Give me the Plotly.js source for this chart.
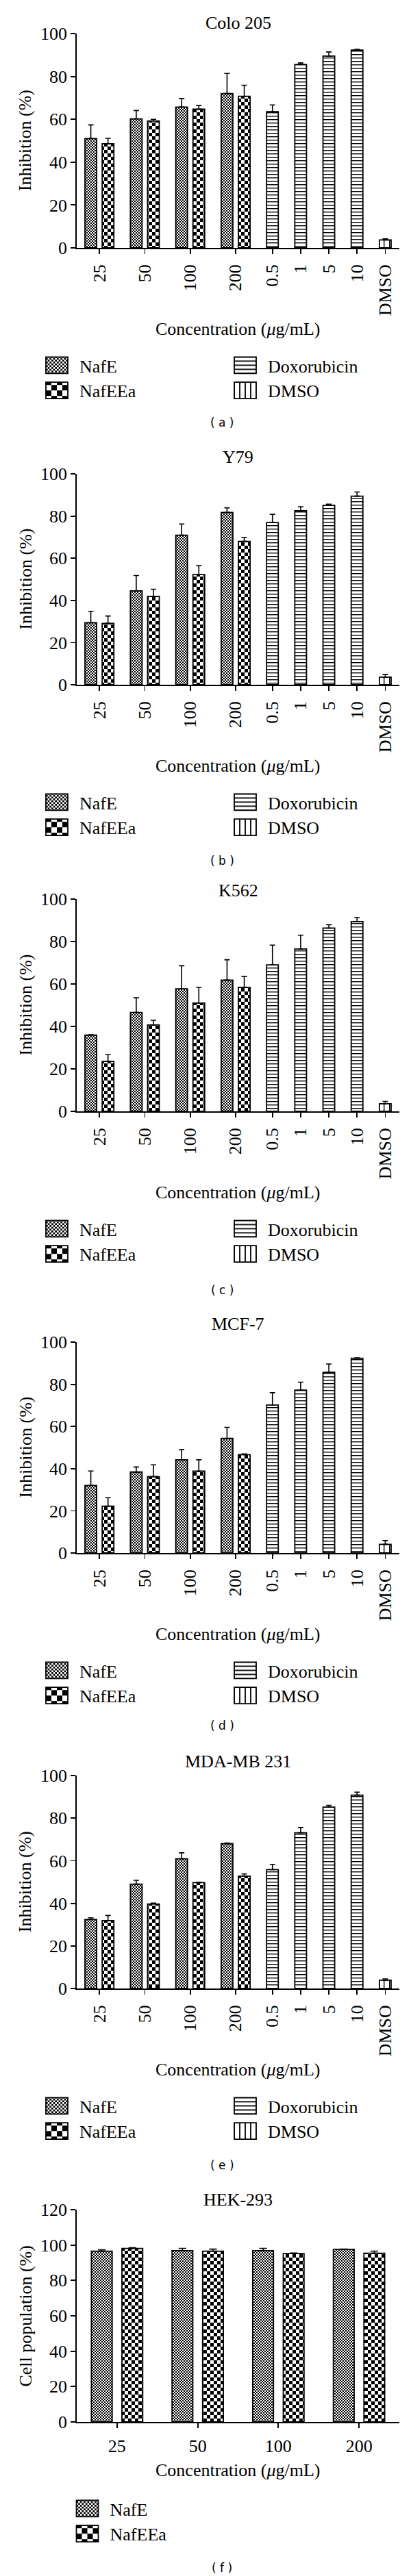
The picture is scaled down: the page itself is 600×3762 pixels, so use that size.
<!DOCTYPE html>
<html>
<head>
<meta charset="utf-8">
<script src="https://cdn.plot.ly/plotly-3.0.1.min.js"></script>
<style>
  html, body { margin: 0; padding: 0; background: #fff; }
  body { width: 600px; height: 3762px; position: relative; overflow: hidden; }
  .panel { position: absolute; left: 0; width: 600px; }
</style>
</head>
<body>
<svg width="0" height="0" style="position:absolute">
  <defs>
    <pattern id="patNafE" patternUnits="userSpaceOnUse" width="4" height="4">
      <rect width="4" height="4" fill="#fff"/>
      <rect x="0" y="0" width="2" height="2" fill="#000"/>
      <rect x="2" y="2" width="2" height="2" fill="#000"/>
    </pattern>
    <pattern id="patNafEEa" patternUnits="userSpaceOnUse" width="10" height="10">
      <rect width="10" height="10" fill="#fff"/>
      <rect x="0" y="0" width="5" height="5" fill="#000"/>
      <rect x="5" y="5" width="5" height="5" fill="#000"/>
    </pattern>
    <pattern id="patDoxo" patternUnits="userSpaceOnUse" width="6" height="5">
      <rect width="6" height="5" fill="#fff"/>
      <rect x="0" y="0" width="6" height="1.4" fill="#000"/>
    </pattern>
    <pattern id="patDMSO" patternUnits="userSpaceOnUse" width="8" height="6">
      <rect width="8" height="6" fill="#fff"/>
      <rect x="0" y="0" width="1.4" height="6" fill="#000"/>
    </pattern>
    <pattern id="legNafE" patternUnits="userSpaceOnUse" width="5.333" height="5.333">
      <rect width="5.333" height="5.333" fill="#fff"/>
      <rect x="0" y="0" width="2.667" height="2.667" fill="#000"/>
      <rect x="2.667" y="2.667" width="2.667" height="2.667" fill="#000"/>
    </pattern>
    <pattern id="legNafEEa" patternUnits="userSpaceOnUse" width="16" height="16">
      <rect width="16" height="16" fill="#fff"/>
      <rect x="0" y="0" width="8" height="8" fill="#000"/>
      <rect x="8" y="8" width="8" height="8" fill="#000"/>
    </pattern>
    <pattern id="legDoxo" patternUnits="userSpaceOnUse" width="8" height="6">
      <rect width="8" height="6" fill="#fff"/>
      <rect x="0" y="-0.9" width="8" height="1.8" fill="#000"/>
      <rect x="0" y="5.1" width="8" height="1.8" fill="#000"/>
    </pattern>
    <pattern id="legDMSO" patternUnits="userSpaceOnUse" width="8" height="6">
      <rect width="8" height="6" fill="#fff"/>
      <rect x="-0.9" y="0" width="1.8" height="6" fill="#000"/>
      <rect x="7.1" y="0" width="1.8" height="6" fill="#000"/>
    </pattern>
  </defs>
</svg>
<div id="pa" class="panel"></div>
<div id="pb" class="panel"></div>
<div id="pc" class="panel"></div>
<div id="pd" class="panel"></div>
<div id="pe" class="panel"></div>
<div id="pf" class="panel"></div>
<script>
// ---------------- DATA ----------------
const extractConc = ['25', '50', '100', '200'];
const doxoConc = ['0.5', '1', '5', '10'];
const dmsoLabel = ['DMSO'];
const seriesNames = ['NafE', 'NafEEa', 'Doxorubicin', 'DMSO'];

// Colo 205
const colo_NafE = [51.0, 60.2, 65.7, 72.0];
const colo_NafE_sd = [6.4, 3.9, 4.0, 9.4];
const colo_NafEEa = [48.6, 59.2, 64.7, 70.7];
const colo_NafEEa_sd = [2.5, 0.8, 1.7, 5.2];
const colo_Doxo = [63.5, 85.6, 89.5, 92.3];
const colo_Doxo_sd = [3.2, 0.7, 1.9, 0.3];
const colo_DMSO = [3.7];
const colo_DMSO_sd = [0.5];

// Y79
const y79_NafE = [29.4, 44.5, 70.9, 81.7];
const y79_NafE_sd = [5.4, 7.3, 5.3, 2.2];
const y79_NafEEa = [29.1, 41.9, 52.2, 68.0];
const y79_NafEEa_sd = [3.5, 3.4, 4.3, 1.9];
const y79_Doxo = [76.9, 82.5, 85.1, 89.4];
const y79_Doxo_sd = [3.9, 1.9, 0.5, 2.0];
const y79_DMSO = [3.6];
const y79_DMSO_sd = [1.3];

// K562
const k562_NafE = [35.9, 46.6, 57.7, 61.8];
const k562_NafE_sd = [0.2, 6.9, 10.9, 9.6];
const k562_NafEEa = [23.5, 40.7, 51.0, 58.4];
const k562_NafEEa_sd = [3.2, 2.2, 7.4, 5.2];
const k562_Doxo = [69.0, 76.5, 86.3, 89.4];
const k562_Doxo_sd = [9.3, 6.5, 1.6, 1.9];
const k562_DMSO = [3.6];
const k562_DMSO_sd = [1.1];

// MCF-7
const mcf7_NafE = [32.0, 38.4, 44.2, 54.3];
const mcf7_NafE_sd = [6.9, 2.4, 4.8, 5.3];
const mcf7_NafEEa = [22.2, 36.2, 38.8, 46.6];
const mcf7_NafEEa_sd = [4.0, 5.6, 5.4, 0.4];
const mcf7_Doxo = [70.2, 77.2, 85.7, 92.3];
const mcf7_Doxo_sd = [5.8, 3.8, 3.9, 0.2];
const mcf7_DMSO = [4.1];
const mcf7_DMSO_sd = [1.8];

// MDA-MB 231
const mda_NafE = [32.4, 49.0, 60.9, 68.0];
const mda_NafE_sd = [0.8, 1.8, 2.8, 0.3];
const mda_NafEEa = [31.9, 39.7, 49.7, 52.8];
const mda_NafEEa_sd = [2.4, 0.4, 0.2, 1.0];
const mda_Doxo = [55.8, 73.1, 85.2, 90.8];
const mda_Doxo_sd = [2.5, 2.5, 0.8, 1.4];
const mda_DMSO = [3.9];
const mda_DMSO_sd = [0.6];

// HEK-293 (cell population)
const hek_NafE = [96.5, 96.8, 96.8, 97.6];
const hek_NafE_sd = [0.8, 1.3, 1.3, 0.1];
const hek_NafEEa = [98.1, 96.5, 95.2, 95.4];
const hek_NafEEa_sd = [0.4, 1.2, 0.3, 1.2];

// ---------------- STYLE / LAYOUT ----------------
const SERIF = '"Liberation Serif", "Times New Roman", serif';
const SANS = '"DejaVu Sans", Verdana, sans-serif';
const BAR_W = 1, GAP_IN = 0.47, GAP_OUT = 1.41;
const PLOT_L = 111.5, PLOT_R = 583;
const patternFallback = {
  'NafE': {shape: '.', size: 3, solidity: 0.5},
  'NafEEa': {shape: '+', size: 8, solidity: 0.5},
  'Doxorubicin': {shape: '-', size: 5, solidity: 0.28},
  'DMSO': {shape: '|', size: 8, solidity: 0.2}
};
const barPatternId = {'NafE': 'patNafE', 'NafEEa': 'patNafEEa', 'Doxorubicin': 'patDoxo', 'DMSO': 'patDMSO'};
const legPatternId = {'NafE': 'legNafE', 'NafEEa': 'legNafEEa', 'Doxorubicin': 'legDoxo', 'DMSO': 'legDMSO'};
const legendRank = {'NafE': 1, 'Doxorubicin': 2, 'NafEEa': 3, 'DMSO': 4};

function buildGroups(seriesList) {
  const allCats = [];
  seriesList.forEach(s => s.cats.forEach(c => { if (!allCats.includes(c)) allCats.push(c); }));
  let cursor = GAP_OUT / 2;
  const centers = [];
  const xs = seriesList.map(s => s.cats.map(() => null));
  allCats.forEach(cat => {
    const present = [];
    seriesList.forEach((s, si) => { const k = s.cats.indexOf(cat); if (k >= 0 && s.vals[k] != null) present.push([si, k]); });
    const start = cursor;
    present.forEach(([si, k], j) => {
      xs[si][k] = cursor + BAR_W / 2;
      cursor += BAR_W + (j < present.length - 1 ? GAP_IN : 0);
    });
    centers.push((start + cursor) / 2);
    cursor += GAP_OUT;
  });
  const total = cursor - GAP_OUT / 2;
  return {allCats, centers, xs, total};
}

const panels = [
  {div: 'pa', title: 'Colo 205', ytitle: 'Inhibition (%)', caption: '( a )', ymax: 100, rotate: true,
   top: 49, bottom: 362, titleY: 33, xtitleY: 480, legendY: 530, captionY: 617,
   series: [
     {name: 'NafE', cats: extractConc, vals: colo_NafE, sd: colo_NafE_sd},
     {name: 'NafEEa', cats: extractConc, vals: colo_NafEEa, sd: colo_NafEEa_sd},
     {name: 'Doxorubicin', cats: doxoConc, vals: colo_Doxo, sd: colo_Doxo_sd},
     {name: 'DMSO', cats: dmsoLabel, vals: colo_DMSO, sd: colo_DMSO_sd}]},
  {div: 'pb', title: 'Y79', ytitle: 'Inhibition (%)', caption: '( b )', ymax: 100, rotate: true,
   top: 692, bottom: 1000, titleY: 667, xtitleY: 1118, legendY: 1168, captionY: 1257,
   series: [
     {name: 'NafE', cats: extractConc, vals: y79_NafE, sd: y79_NafE_sd},
     {name: 'NafEEa', cats: extractConc, vals: y79_NafEEa, sd: y79_NafEEa_sd},
     {name: 'Doxorubicin', cats: doxoConc, vals: y79_Doxo, sd: y79_Doxo_sd},
     {name: 'DMSO', cats: dmsoLabel, vals: y79_DMSO, sd: y79_DMSO_sd}]},
  {div: 'pc', title: 'K562', ytitle: 'Inhibition (%)', caption: '( c )', ymax: 100, rotate: true,
   top: 1313, bottom: 1623, titleY: 1300, xtitleY: 1741, legendY: 1791, captionY: 1884,
   series: [
     {name: 'NafE', cats: extractConc, vals: k562_NafE, sd: k562_NafE_sd},
     {name: 'NafEEa', cats: extractConc, vals: k562_NafEEa, sd: k562_NafEEa_sd},
     {name: 'Doxorubicin', cats: doxoConc, vals: k562_Doxo, sd: k562_Doxo_sd},
     {name: 'DMSO', cats: dmsoLabel, vals: k562_DMSO, sd: k562_DMSO_sd}]},
  {div: 'pd', title: 'MCF-7', ytitle: 'Inhibition (%)', caption: '( d )', ymax: 100, rotate: true,
   top: 1960, bottom: 2268, titleY: 1933, xtitleY: 2386, legendY: 2436, captionY: 2520,
   series: [
     {name: 'NafE', cats: extractConc, vals: mcf7_NafE, sd: mcf7_NafE_sd},
     {name: 'NafEEa', cats: extractConc, vals: mcf7_NafEEa, sd: mcf7_NafEEa_sd},
     {name: 'Doxorubicin', cats: doxoConc, vals: mcf7_Doxo, sd: mcf7_Doxo_sd},
     {name: 'DMSO', cats: dmsoLabel, vals: mcf7_DMSO, sd: mcf7_DMSO_sd}]},
  {div: 'pe', title: 'MDA-MB 231', ytitle: 'Inhibition (%)', caption: '( e )', ymax: 100, rotate: true,
   top: 2593, bottom: 2904, titleY: 2572, xtitleY: 3022, legendY: 3072, captionY: 3162,
   series: [
     {name: 'NafE', cats: extractConc, vals: mda_NafE, sd: mda_NafE_sd},
     {name: 'NafEEa', cats: extractConc, vals: mda_NafEEa, sd: mda_NafEEa_sd},
     {name: 'Doxorubicin', cats: doxoConc, vals: mda_Doxo, sd: mda_Doxo_sd},
     {name: 'DMSO', cats: dmsoLabel, vals: mda_DMSO, sd: mda_DMSO_sd}]},
  {div: 'pf', title: 'HEK-293', ytitle: 'Cell population (%)', caption: '( f )', ymax: 120, rotate: false,
   top: 3227, bottom: 3537, titleY: 3212, xtitleY: 3607, legendY: 3660, captionY: 3750,
   series: [
     {name: 'NafE', cats: extractConc, vals: hek_NafE, sd: hek_NafE_sd},
     {name: 'NafEEa', cats: extractConc, vals: hek_NafEEa, sd: hek_NafEEa_sd}]}
];

function applyPatterns(gd) {
  gd.querySelectorAll('.barlayer .trace').forEach(tr => {
    const cd = tr.__data__;
    const t = cd && cd[0] && cd[0].trace;
    if (!t) return;
    const id = barPatternId[t.name];
    tr.querySelectorAll('.point path').forEach(p => {
      p.style.fill = 'url(#' + id + ')';
      p.style.fillOpacity = '1';
    });
  });
  gd.querySelectorAll('.legend .traces').forEach(tr => {
    const d = tr.__data__;
    let t = null;
    if (d && d[0]) t = d[0].trace || (d[0][0] && d[0][0].trace);
    if (!t) return;
    const id = legPatternId[t.name];
    tr.querySelectorAll('.legendpoints path').forEach(p => {
      p.setAttribute('d', 'M16,12H-16V-12H16Z');
      p.style.fill = 'url(#' + id + ')';
      p.style.fillOpacity = '1';
      p.style.stroke = '#000';
      p.style.strokeWidth = '1.8px';
    });
  });
}

panels.forEach(P => {
  const MT = 80, MB = 330;
  const divTop = P.top - MT;
  const divH = Math.min(P.bottom + MB, 3762) - divTop;
  const mb = divH - MT - (P.bottom - P.top);
  const el = document.getElementById(P.div);
  el.style.top = divTop + 'px';
  el.style.height = divH + 'px';
  const plotH = P.bottom - P.top;
  const plotW = PLOT_R - PLOT_L;
  const g = buildGroups(P.series);

  const traces = P.series.map((s, si) => ({
    type: 'bar',
    name: s.name,
    x: g.xs[si],
    y: s.vals,
    width: BAR_W,
    legendrank: legendRank[s.name],
    marker: {
      color: '#fff',
      line: {color: '#000', width: 1.8},
      pattern: Object.assign({fgcolor: '#000', bgcolor: '#fff', fillmode: 'replace'}, patternFallback[s.name])
    },
    error_y: {
      type: 'data', symmetric: false, array: s.sd, arrayminus: s.sd.map(() => 0),
      color: '#000', thickness: 1.6, width: P.rotate ? 4 : 5.5, visible: true
    },
    hoverinfo: 'skip'
  }));

  const pxToPaperX = px => (px - PLOT_L) / plotW;
  const layout = {
    width: 600, height: divH,
    margin: {l: PLOT_L, r: 600 - PLOT_R, t: MT, b: mb, pad: 0},
    paper_bgcolor: 'rgba(0,0,0,0)', plot_bgcolor: 'rgba(0,0,0,0)',
    barmode: 'overlay',
    showlegend: true,
    font: {family: SERIF, color: '#000', size: 26},
    xaxis: {
      range: [0, g.total], tickmode: 'array', tickvals: g.centers, ticktext: g.allCats,
      tickangle: P.rotate ? -90 : 0, ticks: 'outside', ticklen: 7, tickwidth: 1.8, tickcolor: '#000',
      ticklabelstandoff: P.rotate ? 5 : 4,
      showline: true, linewidth: 1.8, linecolor: '#000', showgrid: false, zeroline: false,
      tickfont: {family: SERIF, size: 26, color: '#000'}, automargin: false, fixedrange: true
    },
    yaxis: {
      range: [0, P.ymax], tickmode: 'linear', tick0: 0, dtick: 20,
      ticks: 'outside', ticklen: 7, tickwidth: 1.8, tickcolor: '#000',
      showline: true, linewidth: 1.8, linecolor: '#000', showgrid: false, zeroline: false,
      tickfont: {family: SERIF, size: 26, color: '#000'}, automargin: false, fixedrange: true
    },
    shapes: [
      {type: 'line', xref: 'paper', yref: 'paper', x0: pxToPaperX(105), x1: 0, y0: 0, y1: 0,
       line: {color: '#000', width: 1.8}, layer: 'above'}
    ],
    legend: {
      orientation: P.rotate ? 'h' : 'v',
      x: pxToPaperX(94), xanchor: 'left',
      y: -((P.legendY - 20) - P.bottom) / plotH, yanchor: 'top',
      font: {family: SERIF, size: 26, color: '#000'},
      itemwidth: 56, entrywidth: P.rotate ? 204 : undefined, entrywidthmode: 'pixels',
      traceorder: 'normal', tracegroupgap: 0, bgcolor: 'rgba(0,0,0,0)', borderwidth: 0,
      itemclick: false, itemdoubleclick: false
    },
    annotations: [
      {text: P.title, xref: 'paper', yref: 'paper', x: 0.5, y: 1, xanchor: 'center', yanchor: 'middle',
       yshift: P.top - P.titleY, showarrow: false, font: {family: SERIF, size: 26, color: '#000'}},
      {text: P.ytitle, xref: 'paper', yref: 'paper', x: pxToPaperX(36), y: 0.5, xanchor: 'center', yanchor: 'middle',
       textangle: -90, showarrow: false, font: {family: SERIF, size: 26, color: '#000'}},
      {text: 'Concentration (<i>\u03bc</i>g/mL)', xref: 'paper', yref: 'paper', x: 0.5, y: 0, xanchor: 'center', yanchor: 'middle',
       yshift: -(P.xtitleY - P.bottom), showarrow: false, font: {family: SERIF, size: 26, color: '#000'}},
      {text: P.caption, xref: 'paper', yref: 'paper', x: pxToPaperX(324), y: 0, xanchor: 'center', yanchor: 'middle',
       yshift: -(P.captionY - P.bottom), showarrow: false, font: {family: SANS, size: 17, color: '#000'}}
    ]
  };
  Plotly.newPlot(el, traces, layout, {staticPlot: true, displayModeBar: false}).then(gd => {
    applyPatterns(gd);
    gd.on && gd.on('plotly_afterplot', () => applyPatterns(gd));
  });
});
</script>
</body>
</html>
